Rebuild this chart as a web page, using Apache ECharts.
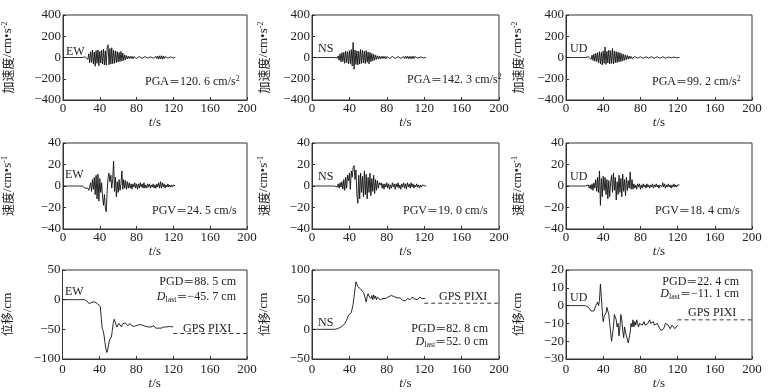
<!DOCTYPE html>
<html><head><meta charset="utf-8">
<script src="https://cdn.jsdelivr.net/npm/echarts@6/dist/echarts.min.js"></script>
<style>html,body{margin:0;padding:0;background:#fff}#c{width:773px;height:392px}</style>
</head><body><div id="c"></div>
<script>
// sampling interval of all records (s)
const DT = 1;
const xTicks = [0, 40, 80, 120, 160, 200];

// acceleration (cm/s^2), one sample per second from t = 0
const accEW = [0,0,0,0,0,0,0,0,0,0,0,0,0,0,0,0,0,0,0,0,0,0,
 2,-4,6,-8,12,-18,35,-50,55,-45,70,-60,50,-82,65,-55,72,-78,58,-52,68,-62,80,-70,62,-72,88,120,-68,85,-62,92,-58,70,-55,62,-48,55,-42,48,-38,58,-32,42,-28,24,-20,18,-14,
 12,-10,11,-9,10,-12,9,-8,10,-9,8,-10,9,-7,8,-9,7,-8,9,-7,8,-6,7,-8,6,-7,8,-6,7,-9,10,-11,13,-15,16,-14,17,-15,14,-12,10,-8,7,-6,7,-5,6,-5,4,-4,3,-2];
const accNS = [0,0,0,0,0,0,0,0,0,0,0,0,0,0,0,0,0,0,0,0,0,0,0,0,0,0,
 3,-6,15,-25,35,-40,45,-38,50,-55,60,-48,55,-60,65,-58,75,-80,142,-110,70,-65,62,-70,58,-62,75,-55,68,-50,60,-58,65,-45,52,-60,48,-40,38,-32,30,-25,22,-18,16,
 -14,12,-13,11,-10,12,-9,10,-11,9,-8,10,-9,8,-10,9,-8,7,-9,8,-7,9,-8,7,-9,8,-7,9,-10,11,-9,12,-10,11,-12,10,-11,12,-10,9,-8,7,-6,8,-6,5,-6,5,-4,4,-3,2];
const accUD = [0,0,0,0,0,0,0,0,0,0,0,0,0,0,0,0,0,0,0,0,0,0,
 3,-5,8,-10,14,-18,22,-28,32,-35,40,-38,45,-50,55,-60,48,-70,62,-55,99,-65,58,-52,70,-60,65,-55,85,-62,60,-50,55,-48,50,-42,45,-38,36,-32,30,-26,24,-20,18,-15,13,-12,10,
 -9,8,-7,9,-8,6,-7,8,-6,7,-8,6,-7,8,-6,7,-5,6,-7,5,-6,7,-5,6,-7,5,-6,7,-5,6,-7,8,-6,7,-8,6,-7,8,-6,5,-6,5,-4,5,-4,4,-3,4,-3,3,-2,1];

// velocity (cm/s)
const velEW = [0,0,0,0,0,0,0,0,0,0,0,0,0,0,0,0,0,0,0,0,0,0,0,
 -1,-2,-1,-3,-2,-4,-1,3,-5,6,-3,8,-8,10,-12,11,-14,7,-6,3,-10,-18,-8,-20,-24,-5,8,12,4,10,-2,6,23,-5,8,-10,4,-6,6,-4,2,14,-3,6,-2,5,-3,4,
 -2,3,-2,2,-3,2,-1,3,-2,2,-3,2,-2,3,-1,2,-2,3,-2,1,-2,2,-1,2,-2,1,-1,2,-2,1,-2,2,-1,3,-2,4,-2,3,-1,2,-2,1,-1,2,-1,1,-1,1,-1,1,0,0];
const velNS = [0,0,0,0,0,0,0,0,0,0,0,0,0,0,0,0,0,0,0,0,0,0,0,0,0,0,
 1,-1,2,-2,3,-1,4,-3,6,-4,8,-2,10,5,12,-3,14,8,17,19,6,15,-8,-16,10,-12,12,-6,9,-10,14,-8,11,-12,8,-6,12,-9,7,-5,10,-7,6,-4,5,
 -2,3,1,3,-2,2,-3,2,-1,3,-2,2,-3,1,-2,3,-1,2,-3,2,-1,3,-2,1,-3,2,-1,3,-2,2,-3,3,-1,2,-2,3,-1,2,-2,1,-1,2,-1,1,-2,1,-1,1,0,1,0,0];
const velUD = [0,0,0,0,0,0,0,0,0,0,0,0,0,0,0,0,0,0,0,0,0,0,0,
 -1,1,-2,1,-3,2,-4,3,-2,6,-5,8,-6,14,-18,7,-10,9,-4,8,-8,6,-12,5,-10,3,10,-6,12,-4,8,-13,4,-8,10,-6,7,-10,11,-5,6,-9,8,-4,5,-2,13,-3,
 6,-3,2,-2,1,-3,2,-1,2,-3,1,-2,2,-1,1,-2,2,-1,1,-2,1,-1,2,-2,1,-1,2,-1,1,-2,1,2,-1,3,-1,2,-2,1,-1,2,-1,1,-2,1,-1,2,-1,1,-1,1,0,1];

// displacement (cm)
const dispEW = [0,0,0,0,0,0,0,0,0,0,0,0,0,0,0,0,0,0,0,0,0,0,0,0,0,
 -1,-2,-3,-5,-7,-8,-6,-4,-3,-5,-4,-6,-5,-7,-9,-10,-12,-30,-48,-52,-60,-72,-82,-89,-85,-75,-68,-65,-63,-52,-40,-33,-37,-42,-46,-44,-40,-38,-43,-46,-41,-38,-42,-39,-37,
 -41,-44,-42,-40,-43,-44,-41,-43,-45,-42,-44,-43,-45,-44,-42,-44,-45,-43,-44,-46,-45,-43,-44,-46,-45,-44,-46,-47,-45,-44,-46,-48,-49,-47,-48,-46,-47,-48,-46,-47,-46,-47,-45,-46,-47,-46,-45,-44,-45,-46,-45];
const dispNS = [0,0,0,0,0,0,0,0,0,0,0,0,0,0,0,0,0,0,0,0,0,0,0,0,0,0,
 0,1,1,2,3,4,5,6,8,10,12,15,20,24,26,25,28,30,42,55,68,80,83,72,70,71,68,70,68,62,58,52,46,55,60,56,58,52,57,50,58,52,56,50,54,52,
 56,50,53,51,52,50,53,52,54,53,55,54,56,57,58,56,55,54,55,53,54,52,53,51,50,49,48,49,48,50,52,53,51,50,52,54,55,52,51,53,52,50,52,54,55,53,52,54,53,52];
const dispUD = [0,0,0,0,0,0,0,0,0,0,0,0,0,0,0,0,0,0,0,0,0,0,
 0,-0.5,-1,-1,-2,-3,-4,-4,-3,-2,0,1,2,0,3,12,5,-3,-9,-6,-7,-4,-1,-1,-5,-10,-15,-20,-21,-12,-5,-4,-8,-12,-10,-17,-12,-5,-8,-14,-18,-12,-15,-17,-18,-21,-22,-15,-10,
 -12,-8,-12,-9,-11,-8,-10,-12,-10,-9,-11,-11,-10,-9,-11,-12,-10,-10,-9,-8,-10,-11,-10,-9,-11,-12,-11,-10,-11,-12,-13,-14,-15,-15,-13,-12,-10,-9,-10,-11,-12,-13,-12,-11,-11,-12,-13,-12,-12,-11];

// GPS PIXI static offsets (cm) drawn from t = 120 s to 200 s
const gpsT = [120, 200];
const gpsEW = -57, gpsNS = 44, gpsUD = -8;

const compLabels = ['EW', 'NS', 'UD'];
const pgaText = ['120. 6', '142. 3', '99. 2'];
const pgvText = ['24. 5', '19. 0', '18. 4'];
const pgdText = ['88. 5', '82. 8', '22. 4'];
const dlastText = ['−45. 7', '52. 0', '−11. 1'];

const FONT = "'Liberation Serif','Times New Roman','Noto Sans CJK SC',serif";
const INK = '#222';

const cols = [{left: 61, width: 186, ygap: 48}, {left: 312, width: 187, ygap: 41}, {left: 566, width: 186, ygap: 41}];
const rows = [
  {top: 15, height: 85, min: [-400, -400, -400], max: [400, 400, 400], iv: [200, 200, 200], xgap: 11, lmargin: 2,
   yname: '{c|加速度}{n|/cm•s}{s|-2}'},
  {top: 143, height: 86, min: [-40, -40, -40], max: [40, 40, 40], iv: [20, 20, 20], xgap: 14, lmargin: 2,
   yname: '{c|速度}{n|/cm•s}{s|-1}'},
  {top: 270, height: 89, min: [-100, -50, -30], max: [50, 100, 20], iv: [50, 50, 10], xgap: 16, lmargin: 4,
   yname: '{c|位移}{n|/cm}'}
];
const data = [[accEW, accNS, accUD], [velEW, velNS, velUD], [dispEW, dispNS, dispUD]];
const gps = [gpsEW, gpsNS, gpsUD];

const richName = {
  c: {fontFamily: "'Noto Sans CJK SC',serif", fontSize: 12, color: INK, lineHeight: 14},
  n: {fontFamily: FONT, fontSize: 13, color: INK, lineHeight: 14},
  s: {fontFamily: FONT, fontSize: 8, color: INK, verticalAlign: 'top', lineHeight: 14}
};

const grid = [], xAxis = [], yAxis = [], series = [];
let gi = 0;
rows.forEach((r, ri) => {
  cols.forEach((c, ci) => {
    grid.push({left: c.left, top: r.top, width: c.width, height: r.height, show: true, borderColor: '#333', borderWidth: 1, containLabel: false});
    xAxis.push({
      gridIndex: gi, type: 'value', min: 0, max: 200, interval: 40,
      axisLine: {show: true, onZero: false, lineStyle: {color: '#333', width: 1}},
      axisTick: {show: true, inside: true, length: 3, lineStyle: {color: '#333'}},
      axisLabel: {margin: r.lmargin, fontFamily: FONT, fontSize: 13, color: INK},
      splitLine: {show: false},
      name: '{i|t}{n|/s}', nameLocation: 'middle', nameGap: r.xgap,
      nameTextStyle: {rich: {i: {fontFamily: FONT, fontStyle: 'italic', fontSize: 13, color: INK}, n: {fontFamily: FONT, fontSize: 13, color: INK}}}
    });
    yAxis.push({
      gridIndex: gi, type: 'value', min: r.min[ci], max: r.max[ci], interval: r.iv[ci],
      axisLine: {show: true, onZero: false, lineStyle: {color: '#333', width: 1}},
      axisTick: {show: true, inside: true, length: 3, lineStyle: {color: '#333'}},
      axisLabel: {margin: 2, fontFamily: FONT, fontSize: 13, color: INK,
        formatter: v => v < 0 ? '−' + (-v) : String(v)},
      splitLine: {show: false},
      name: r.yname, nameLocation: 'middle', nameRotate: 90, nameGap: c.ygap,
      nameTextStyle: {rich: richName}
    });
    series.push({
      type: 'line', xAxisIndex: gi, yAxisIndex: gi, showSymbol: false, symbol: 'none', animation: false,
      silent: true,
      lineStyle: {color: '#111', width: 0.9},
      data: data[ri][ci].map((v, i) => [i * DT, v])
    });
    if (ri === 2) {
      series.push({
        type: 'line', xAxisIndex: gi, yAxisIndex: gi, showSymbol: false, symbol: 'none', animation: false, silent: true,
        lineStyle: {color: '#222', width: 0.9, type: [4, 3]},
        data: gpsT.map(t => [t, gps[ci]])
      });
    }
    gi++;
  });
});

// annotation text
const rt = {
  a: {fontFamily: FONT, fontSize: 12, fill: INK},
  e: {fontFamily: "'Noto Sans CJK SC',serif", fontSize: 11, fill: INK},
  s: {fontFamily: FONT, fontSize: 8, fill: INK, verticalAlign: 'top'},
  i: {fontFamily: FONT, fontSize: 12, fontStyle: 'italic', fill: INK},
  b: {fontFamily: FONT, fontSize: 8, fill: INK, verticalAlign: 'bottom'}
};
function txt(x, y, text, align) {
  return {type: 'text', x: x, y: y, silent: true, z: 100,
    style: {text: text, rich: rt, fontFamily: FONT, fontSize: 12, fill: INK, align: align || 'left', verticalAlign: 'middle', lineHeight: 14}};
}
const compPos = [[[66, 52], [318, 49], [570, 49]], [[65, 175], [318, 177], [570, 177]], [[65, 292], [318, 323], [570, 298]]];
const g = [];
for (let ri = 0; ri < 3; ri++) for (let ci = 0; ci < 3; ci++) {
  g.push(txt(compPos[ri][ci][0], compPos[ri][ci][1], '{a|' + compLabels[ci] + '}'));
}
const pgaPos = [[145, 82], [407, 80], [652, 82]];
const pgvPos = [[152, 211], [403, 211], [655, 211]];
for (let ci = 0; ci < 3; ci++) {
  g.push(txt(pgaPos[ci][0], pgaPos[ci][1], '{a|PGA}{e|＝}{a|' + pgaText[ci] + ' cm/s}{s|2}'));
  g.push(txt(pgvPos[ci][0], pgvPos[ci][1], '{a|PGV}{e|＝}{a|' + pgvText[ci] + ' cm/s}'));
}
const pgdPos = [[236, 282, 297, 183, 329], [488, 329, 342, 439, 297], [739, 282, 294, 688, 313]];
for (let ci = 0; ci < 3; ci++) {
  const p = pgdPos[ci];
  g.push(txt(p[0], p[1], '{a|PGD}{e|＝}{a|' + pgdText[ci] + ' cm}', 'right'));
  g.push(txt(p[0], p[2], '{i|D}{b|last}{e|＝}{a|' + dlastText[ci] + ' cm}', 'right'));
  g.push(txt(p[3], p[4], '{a|GPS PIXI}'));
}

const chart = echarts.init(document.getElementById('c'), null, {renderer: 'canvas'});
chart.setOption({animation: false, backgroundColor: '#fff', grid, xAxis, yAxis, series, graphic: g});
</script></body></html>
